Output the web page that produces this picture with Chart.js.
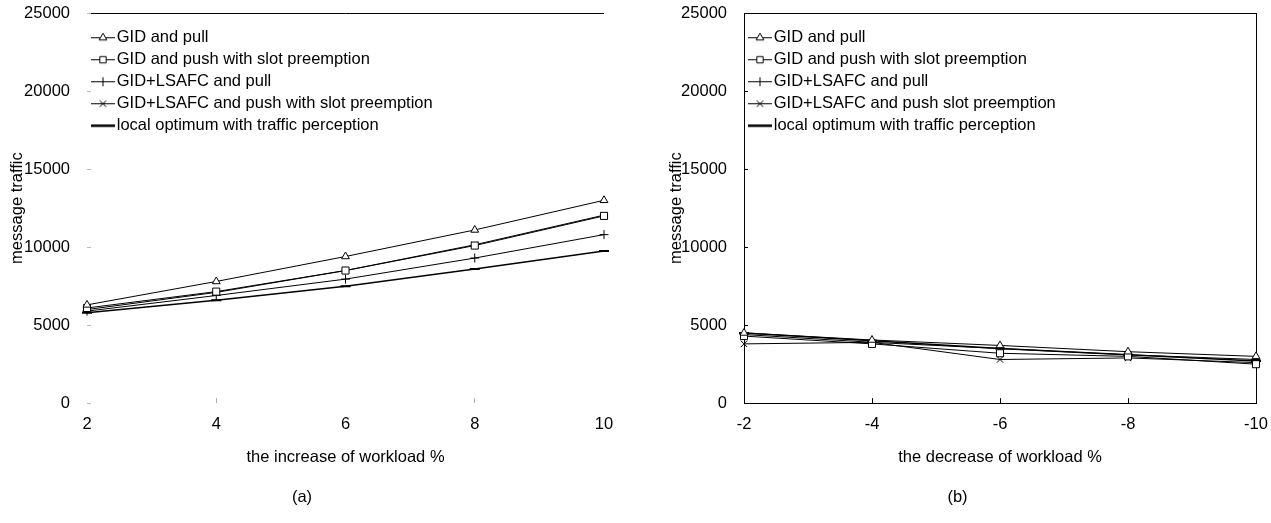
<!DOCTYPE html>
<html><head><meta charset="utf-8">
<script src="https://cdn.jsdelivr.net/npm/chart.js@4.4.1/dist/chart.umd.min.js"></script>
<style>
html,body{margin:0;padding:0;background:#fff;}
#wrap{position:relative;width:1271px;height:523px;overflow:hidden;}
.box{position:absolute;top:0;height:523px;}
#a{left:0;width:635px;} #b{left:635px;width:636px;}
</style></head><body>
<div id="wrap">
<div class="box" id="a"><canvas id="ca" width="635" height="523"></canvas></div>
<div class="box" id="b"><canvas id="cb" width="636" height="523"></canvas></div>
</div>
<script>
// ---- data ----
const incLabels = ['2', '4', '6', '8', '10'];
const decLabels = ['-2', '-4', '-6', '-8', '-10'];
const namesA = ['GID and pull', 'GID and push with slot preemption', 'GID+LSAFC and pull', 'GID+LSAFC and push with slot preemption', 'local optimum with traffic perception'];
const namesB = ['GID and pull', 'GID and push with slot preemption', 'GID+LSAFC and pull', 'GID+LSAFC and push slot preemption', 'local optimum with traffic perception'];
const yTicks = [0, 5000, 10000, 15000, 20000, 25000];

const incGidPull   = [6300, 7800, 9400, 11100, 13000];
const incGidPush   = [6100, 7150, 8500, 10100, 12000];
const incLsafcPull = [5900, 6900, 7950, 9300, 10800];
const incLsafcPush = [6000, 7100, 8500, 10150, 12050];
const incLocal     = [5800, 6600, 7500, 8600, 9750];

const decGidPull   = [4500, 4050, 3700, 3300, 3000];
const decGidPush   = [4300, 3800, 3200, 3000, 2500];
const decLsafcPull = [4400, 3900, 3500, 3100, 2800];
const decLsafcPush = [3800, 3900, 2800, 2900, 2600];
const decLocal     = [4500, 4000, 3500, 3100, 2700];

// ---- styling ----
const FONT = 'Liberation Sans, Arial, sans-serif';
const FS = 16.5;
const styles = [
  {ps: 'triangle', r: 4.5, lw: 1, pbw: 1},
  {ps: 'rect', r: 5, lw: 1, pbw: 1},
  {ps: 'cross', r: 4.5, lw: 1, pbw: 1},
  {ps: 'crossRot', r: 4.5, lw: 1, pbw: 1},
  {ps: 'line', r: 5, lw: 1.5, pbw: 2}
];

function makeIcon(i) {
  const c = document.createElement('canvas');
  c.width = 29; c.height = 14;
  const g = c.getContext('2d');
  const s = styles[i];
  g.strokeStyle = '#000';
  g.lineWidth = i === 4 ? 2.5 : 1;
  g.beginPath(); g.moveTo(5, 7.5); g.lineTo(29, 7.5); g.stroke();
  if (i < 4) {
    g.fillStyle = '#fff'; g.lineWidth = 1;
    Chart.helpers.drawPoint(g, {pointStyle: s.ps, radius: 4.5, borderWidth: 1, rotation: 0}, 17, 7.5);
  }
  return c;
}
const icons = [0,1,2,3,4].map(makeIcon);

function datasets(names, arrs) {
  return arrs.map((d, i) => ({
    label: names[i], data: d,
    borderColor: '#000', borderWidth: styles[i].lw,
    pointStyle: styles[i].ps, pointRadius: styles[i].r,
    pointBorderColor: '#000', pointBackgroundColor: '#fff',
    pointBorderWidth: styles[i].pbw, pointHoverRadius: styles[i].r,
    tension: 0, fill: false
  }));
}

function makeChart(canvas, labels, names, arrs, xTitle, sub, framed, padL, yW, padR) {
  return new Chart(canvas, {
    type: 'line',
    data: {labels: labels, datasets: datasets(names, arrs)},
    options: {
      responsive: false, animation: false, devicePixelRatio: 1,
      layout: {padding: {left: padL, right: padR, top: 13, bottom: 0}},
      scales: {
        x: {
          offset: false,
          border: {display: framed, color: '#000', width: 1},
          grid: {
            drawOnChartArea: framed,
            color: c => (framed && c.index === labels.length - 1) ? '#000' : 'rgba(0,0,0,0)',
            tickColor: c => framed ? '#000' : ((c.index === 1 || c.index === 3) ? '#aaa' : 'rgba(0,0,0,0)'),
            tickLength: -5, lineWidth: 1
          },
          ticks: {color: '#000', font: {family: FONT, size: FS}, padding: 16, maxRotation: 0},
          title: {display: true, text: xTitle, color: '#000', font: {family: FONT, size: FS}, padding: {top: 0, bottom: 6}},
          afterFit: s => { s.height = 70; s.paddingLeft = 0; s.paddingRight = 0; }
        },
        y: {
          min: 0, max: 25000,
          border: {display: framed, color: '#000', width: 1},
          grid: {
            color: c => (c.tick && c.tick.value === 25000) ? '#000' : 'rgba(0,0,0,0)',
            tickColor: framed ? '#000' : '#bbb',
            tickLength: -4, lineWidth: 1
          },
          afterBuildTicks: s => { s.ticks = yTicks.map(v => ({value: v})); },
          ticks: {color: '#000', font: {family: FONT, size: FS}, padding: 21, callback: v => String(v)},
          title: {display: true, text: 'message traffic', color: '#000', font: {family: FONT, size: FS}, padding: {top: 8, bottom: 0}},
          afterFit: s => { s.width = yW; s.paddingTop = 0; s.paddingBottom = 0; }
        }
      },
      plugins: {
        legend: {
          position: 'chartArea', align: 'start', fullSize: false,
          title: {display: true, text: '', font: {size: 1, lineHeight: 1}, padding: {top: 22.5, bottom: 0}},
          labels: {
            usePointStyle: true, pointStyleWidth: 16, color: '#000',
            font: {family: FONT, size: 16.5}, padding: 5.5,
            generateLabels: ch => ch.data.datasets.map((d, i) => ({
              text: d.label, pointStyle: icons[i], fillStyle: '#fff', strokeStyle: '#000',
              lineWidth: 0, hidden: false, datasetIndex: i, fontColor: '#000'
            }))
          }
        },
        title: {display: true, text: sub, position: 'bottom', color: '#000', font: {family: FONT, size: FS, weight: 'normal'}, padding: {top: 14, bottom: 16}},
        tooltip: {enabled: false}
      }
    }
  });
}

makeChart(document.getElementById('ca'), incLabels, namesA,
  [incGidPull, incGidPush, incLsafcPull, incLsafcPush, incLocal],
  'the increase of workload %', '(a)', false, 0, 87, 31);
makeChart(document.getElementById('cb'), decLabels, namesB,
  [decGidPull, decGidPush, decLsafcPull, decLsafcPush, decLocal],
  'the decrease of workload %', '(b)', true, 24, 85, 15);
</script>
</body></html>
